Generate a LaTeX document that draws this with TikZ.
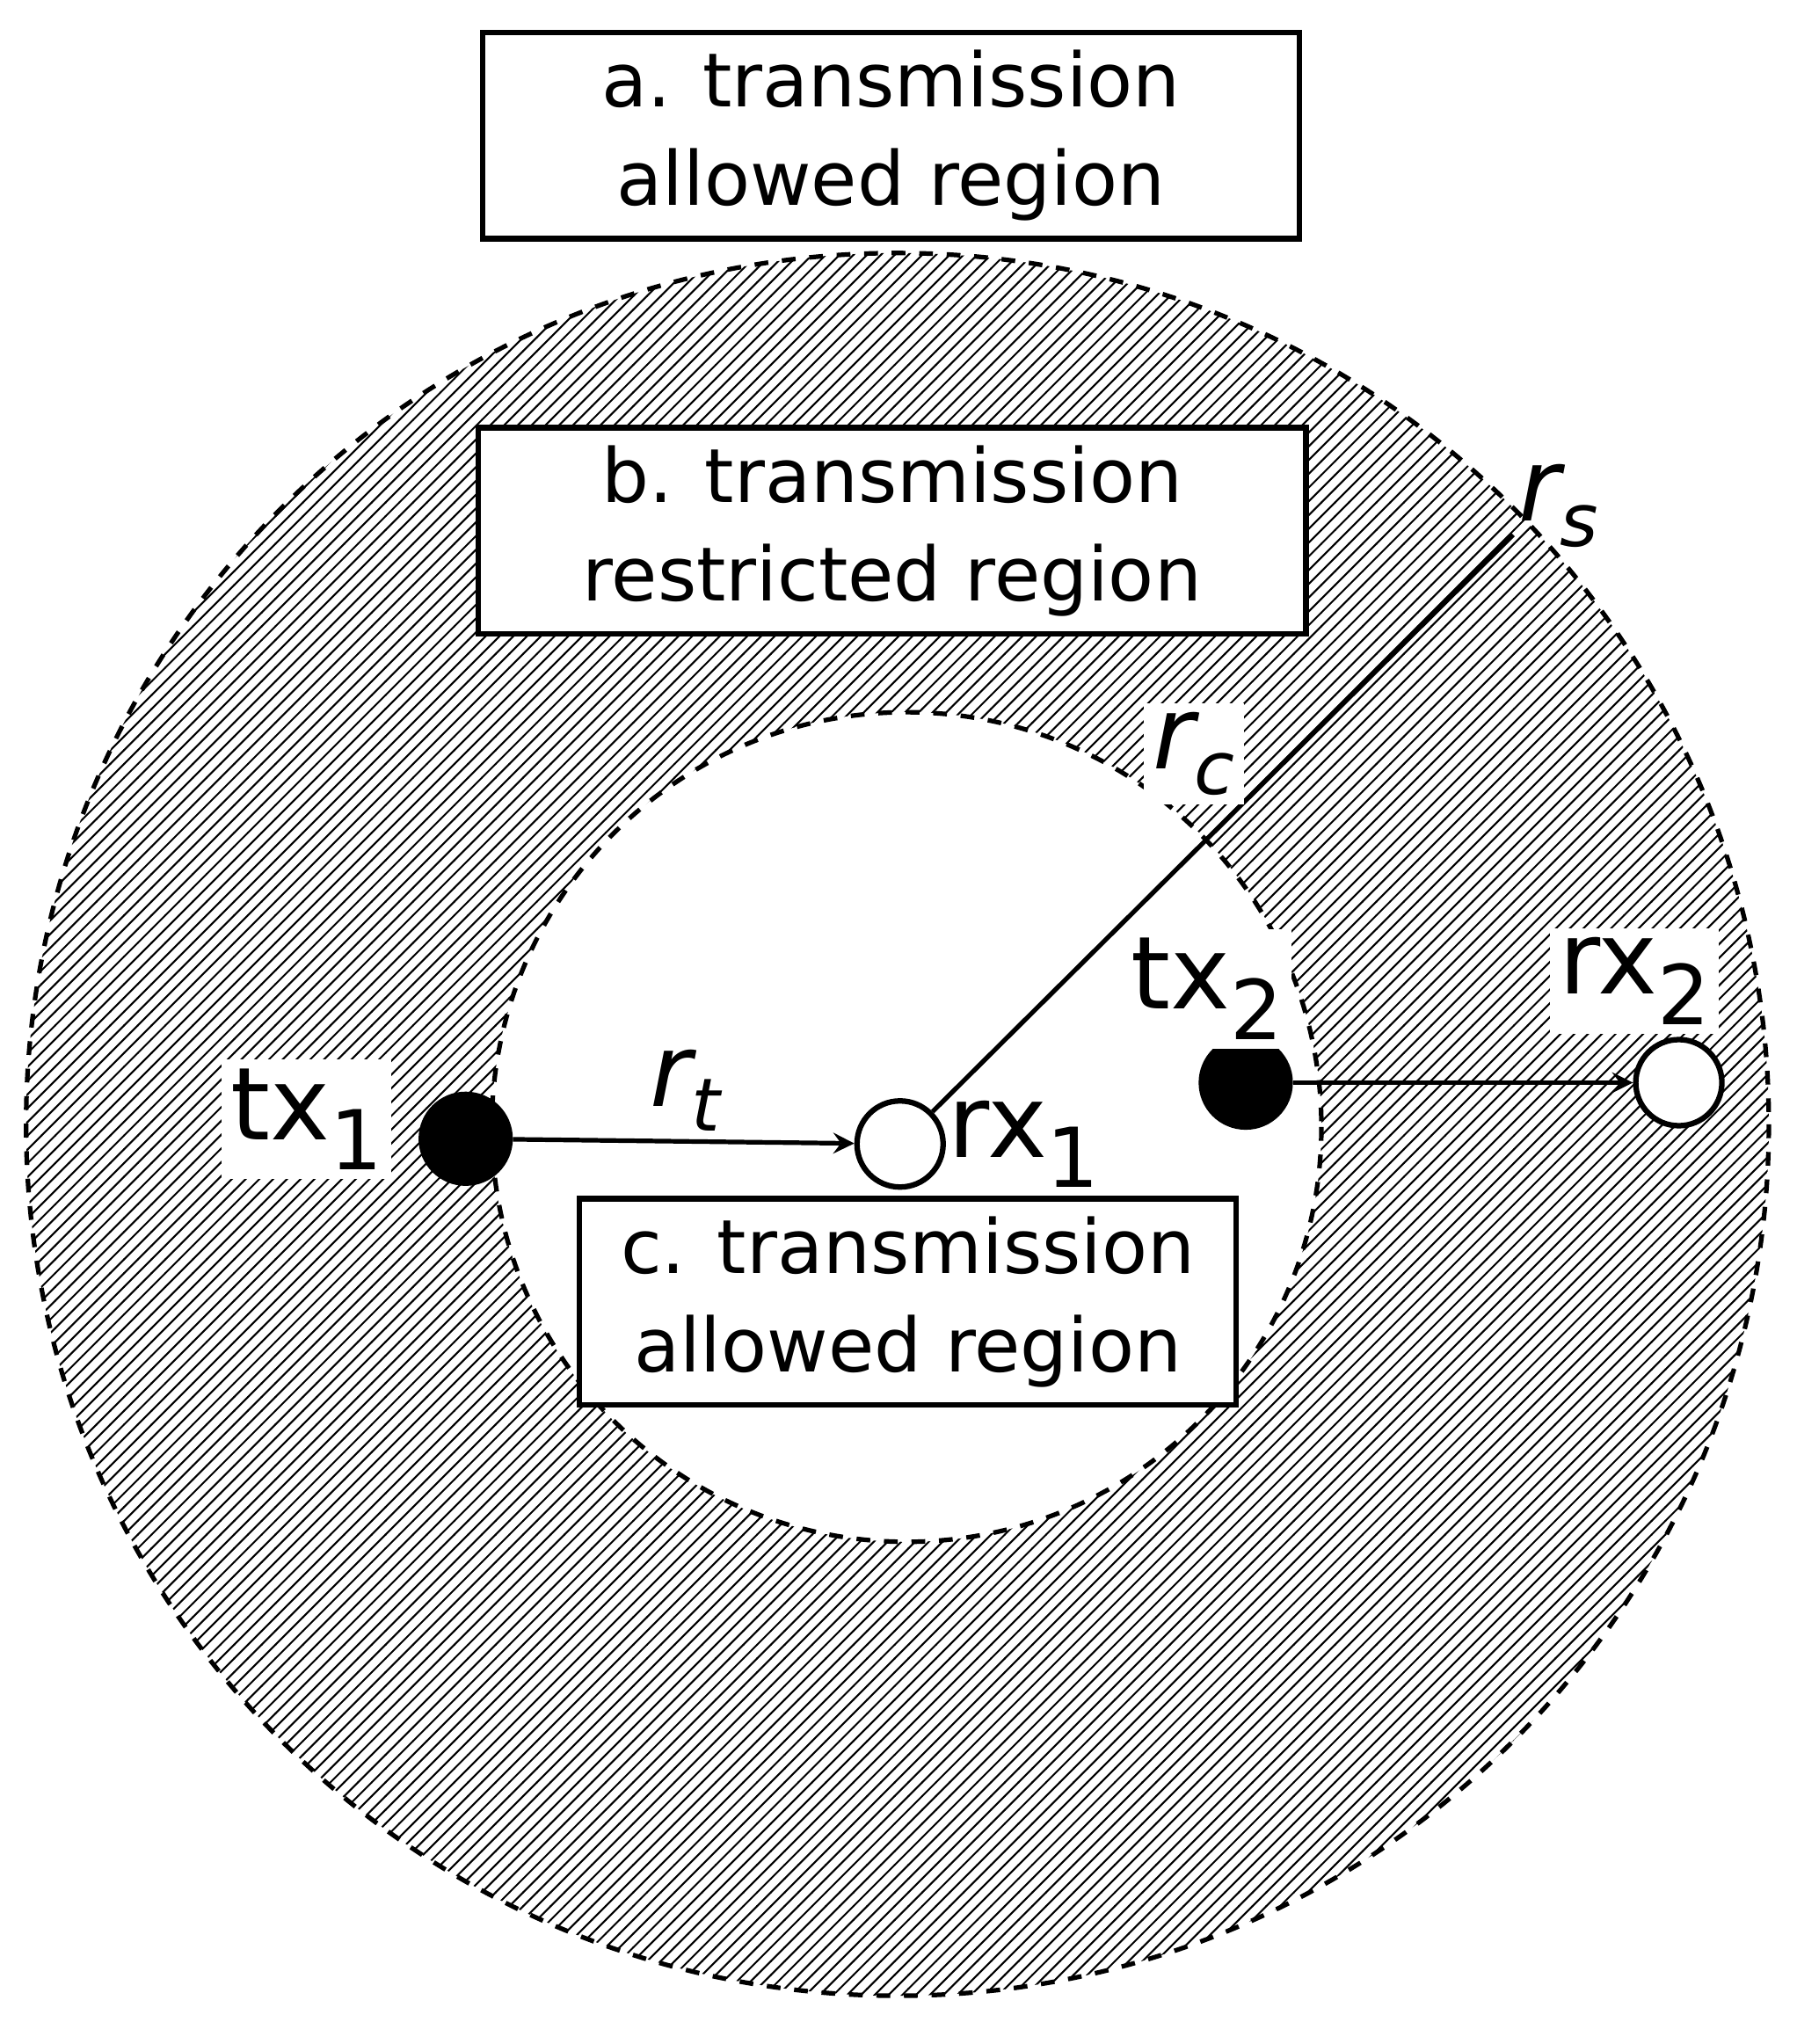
\documentclass[tikz,border=0pt]{standalone}
\usepackage{fontspec}
\setmainfont{DejaVu Sans}
\usetikzlibrary{patterns}
\begin{document}
\begin{tikzpicture}[x=0.01cm,y=-0.01cm,
  box/.style={draw,line width=1.2pt,fill=white,font=\fontsize{16.3}{21.5}\selectfont,align=center,minimum height=1.58cm},
  lab/.style={font=\fontsize{22}{24}\selectfont,inner sep=2pt},
  filled/.style={circle,draw,fill=black,line width=1.2pt,minimum size=0.68cm,inner sep=0pt},
  hollow/.style={circle,draw,fill=white,line width=1.2pt,minimum size=0.66cm,inner sep=0pt},
  arr/.style={line width=1pt,->,>=stealth}]
\useasboundingbox (0,0) rectangle (1377,1567);
\fill[pattern=north east lines] (688,862) circle (668);
\draw[dashed,line width=1pt,fill=white] (695,864) circle (318);
\draw[dashed,line width=1pt] (688,862) circle (668);
\node[box,minimum width=6.26cm] (a) at (683,104) {a. transmission\\allowed region};
\node[box,minimum width=6.34cm] (b) at (684,407) {b. transmission\\restricted region};
\node[box,minimum width=5.03cm] (c) at (696,998) {c. transmission\\allowed region};
\node[filled] (tx1) at (357,873) {};
\node[hollow] (rx1) at (690,877) {};
\node[filled] (tx2) at (955,830) {};
\node[hollow] (rx2) at (1287,830) {};
\coordinate (rs) at (1160,410);
\draw[line width=1pt] (rx1) -- (rs);
\draw[arr] (tx1) -- (rx1);
\draw[arr] (tx2) -- (rx2);
\newcommand\sbs[1]{\raisebox{-0.3em}{\fontsize{18}{20}\selectfont #1}}
\newcommand\sbi[1]{\raisebox{-0.25em}{\fontsize{16}{18}\selectfont #1}}
\node[lab,fill=white] (ltx1) at (235,858) {tx\sbs{1}};
\node[lab] (lrx1) at (785,877) {rx\sbs{1}};
\node[lab,fill=white] (ltx2) at (925,758) {tx\sbs{2}};
\node[lab,fill=white] (lrx2) at (1253,752) {rx\sbs{2}};
\node[lab] (lrs) at (1195,388) {\itshape r\sbi{s}};
\node[lab,fill=white] (lrc) at (915,578) {\itshape r\sbi{c}};
\node[lab] (lrt) at (525,836) {\itshape r\sbi{t}};
\end{tikzpicture}
\end{document}
